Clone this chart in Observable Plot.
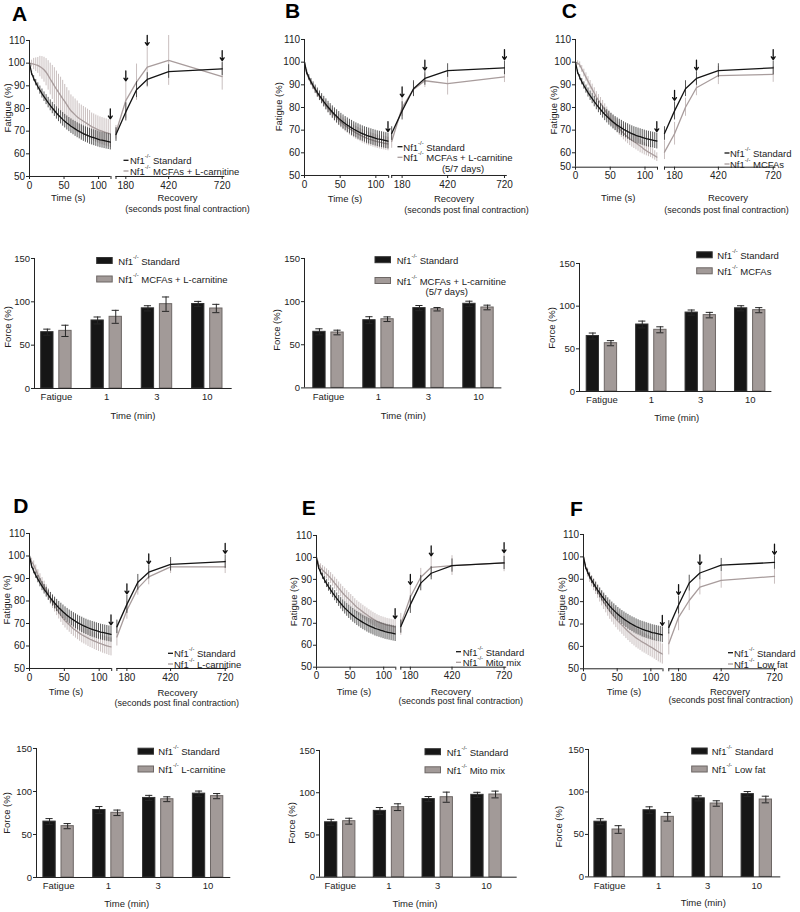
<!DOCTYPE html>
<html><head><meta charset="utf-8">
<script src="https://cdn.jsdelivr.net/npm/d3@7"></script>
<script src="https://cdn.jsdelivr.net/npm/@observablehq/plot@0.6"></script>
<style>
body{margin:0;background:#fff;}
#fig{position:relative;width:800px;height:912px;overflow:hidden;background:#fff;}
#fig svg{position:absolute;overflow:visible;}
</style></head><body><div id="fig"></div>
<script>
// ---------------- DATA ----------------
const fatigueTime = [0,3,6,9,12,15,18,21,24,27,30,33,36,39,42,45,48,51,54,57,60,63,66,69,72,75,78,81,84,87,90,93,96,99,102,105,108,111,114,117];
const recoveryTime = [125,180,240,300,420,720];
const barGroups = ["Fatigue","1","3","10"];

const standardFatigue = [100,95.5,93.3,91.4,89.7,88.1,86.6,85.2,83.9,82.6,81.4,80.2,79.1,78.0,77.0,76.1,75.2,74.4,73.6,72.9,72.2,71.6,71.0,70.4,69.9,69.4,68.9,68.5,68.1,67.7,67.4,67.1,66.8,66.5,66.2,66.0,65.8,65.6,65.4,65.2];
const standardFatigueErr = [0.5,1.0,1.2,1.4,1.6,1.8,2.0,2.1,2.2,2.3,2.4,2.5,2.6,2.7,2.8,2.9,3.0,3.0,3.1,3.1,3.2,3.2,3.3,3.3,3.3,3.4,3.4,3.4,3.4,3.5,3.5,3.5,3.5,3.5,3.5,3.5,3.5,3.5,3.5,3.5];
const standardRecovery = [68.5,78.5,88.3,92.8,96.3,97.5];
const standardRecoveryErr = [3,4,3.5,3,3,3];
const standardForce = [65,78.5,92.5,97.5];
const standardForceErr = [3.5,4,3,3];

// A: MCFAs + L-carnitine
const aFatigue = [100,99.8,99.6,99.3,99.0,98.5,97.9,97.1,96.0,94.6,93.0,91.5,90.0,88.5,87.1,85.8,84.4,83.1,81.7,80.3,79.0,78.1,77.2,76.3,75.6,75.0,74.4,73.8,73.2,72.6,72.0,71.6,71.1,70.7,70.3,70.0,69.7,69.4,69.1,68.8];
const aFatigueErr = [0.5,1.5,2.5,3.0,3.5,4.5,5.0,5.5,6.0,6.5,7.0,7.5,8.0,8.0,8.0,8.0,8.0,7.5,7.5,7.5,7.0,7.0,7.0,7.0,6.5,6.5,6.5,6.5,6.5,6.5,6.0,6.0,6.0,6.0,6.0,6.0,6.0,6.0,6.0,6.0];
const aRecovery = [69.5,83.5,91.6,98.2,101.2,94.1];
const aRecoveryErr = [3,8,8,9,11,6];
const aForce = [66.5,82.7,97.3,92.3];
const aForceErr = [6.5,7.5,8.3,4.8];

// B: MCFAs + L-carnitine (5/7 days)
const bFatigue = [100,95.0,92.8,90.9,89.2,87.6,86.1,84.7,83.4,82.1,80.9,79.7,78.5,77.4,76.4,75.4,74.5,73.6,72.8,72.0,71.3,70.6,70.0,69.4,68.8,68.3,67.8,67.3,66.9,66.5,66.1,65.8,65.5,65.2,64.9,64.7,64.5,64.3,64.1,63.9];
const bFatigueErr = [0.5,0.8,1.0,1.2,1.4,1.5,1.6,1.7,1.8,1.9,2.0,2.1,2.2,2.3,2.4,2.5,2.5,2.6,2.6,2.7,2.7,2.8,2.8,2.8,2.9,2.9,2.9,3.0,3.0,3.0,3.0,3.0,3.0,3.0,3.0,3.0,3.0,3.0,3.0,3.0];
const bRecovery = [65,80,88,91.8,90.5,93.5];
const bRecoveryErr = [3,4,3,3,5,2.5];
const bForce = [64.2,79.6,91.2,93.2];
const bForceErr = [2.7,2.7,2,2.7];

// C: MCFAs
const cFatigue = [100,99.6,98.8,97.0,95.2,93.4,91.6,89.8,88.1,86.4,84.6,83.2,81.9,80.5,79.0,77.5,76.0,74.7,73.6,72.6,71.6,70.6,69.6,68.7,67.8,67.0,66.2,65.5,64.9,64.3,63.7,63.0,62.3,61.5,60.9,60.3,59.7,58.8,57.9,57.0];
const cFatigueErr = [0.5,1.0,1.3,1.5,1.7,1.9,2.0,2.1,2.2,2.3,2.4,2.5,2.5,2.6,2.6,2.7,2.7,2.8,2.8,2.8,2.9,2.9,2.9,3.0,3.0,3.0,3.0,3.0,3.0,3.0,3.0,3.0,3.0,3.0,3.0,3.0,3.0,3.0,3.0,3.0];
const cRecovery = [60.3,68.4,80.1,88.7,94.1,94.6];
const cRecoveryErr = [5,5,4,3.5,4,3.5];
const cForce = [56.6,72.3,89.5,95.3];
const cForceErr = [3,3.5,3.2,3];

// D: L-carnitine
const dFatigue = [99.0,97.5,96.0,94.0,91.8,89.9,88.1,86.4,84.7,82.9,81.1,79.5,78.0,76.5,75.0,73.6,72.3,71.2,70.3,69.4,68.5,67.7,67.0,66.3,65.6,65.0,64.5,64.0,63.5,63.0,62.6,62.2,61.8,61.4,61.1,60.7,60.4,60.1,59.8,59.6];
const dFatigueErr = [1.0,1.5,1.8,2.0,2.1,2.2,2.3,2.4,2.5,2.6,2.7,2.8,2.9,3.0,3.0,3.1,3.2,3.2,3.3,3.3,3.4,3.4,3.5,3.5,3.5,3.6,3.6,3.6,3.7,3.7,3.7,3.8,3.8,3.8,3.8,3.9,3.9,3.9,4.0,4.0];
const dRecovery = [64,75.9,85.6,90.7,95.2,95.2];
const dRecoveryErr = [4,4,3,3.5,3,3];
const dForce = [59.7,75.2,91,94.6];
const dForceErr = [3,3.2,2.8,3];

// E: Mito mix
const eFatigue = [99.0,96.8,95.3,94.3,93.4,92.5,91.6,90.6,89.5,88.3,87.2,86.0,84.9,83.8,82.8,81.9,81.0,80.1,79.2,78.2,77.3,76.6,75.9,75.2,74.5,73.9,73.2,72.6,72.0,71.5,70.9,70.5,70.1,69.8,69.5,69.2,69.0,68.8,68.6,68.4];
const eFatigueErr = [0.8,1.5,1.8,2.0,2.2,2.3,2.4,2.5,2.6,2.7,2.8,2.8,2.9,2.9,3.0,3.0,3.0,3.0,3.0,3.0,3.0,3.0,3.0,3.0,3.0,3.0,3.0,3.0,3.0,3.0,3.0,3.0,3.0,3.0,3.0,3.0,3.0,3.0,3.0,3.0];
const eRecovery = [69.5,82,91,95.5,96.3,97.5];
const eRecoveryErr = [5,5,4,4.5,4.5,4];
const eForce = [66.3,82.9,94.7,97.9];
const eForceErr = [3.5,4,6,4];

// F: Low fat
const fFatigue = [100,95.6,93.0,90.9,89.1,87.6,86.1,84.5,82.9,81.3,79.8,78.4,77.0,75.7,74.5,73.4,72.3,71.3,70.4,69.5,68.6,67.7,66.8,66.0,65.2,64.5,63.8,63.2,62.6,62.0,61.5,61.0,60.4,59.9,59.4,58.8,58.2,57.6,57.1,56.6];
const fFatigueErr = [0.5,1.5,2.0,2.3,2.5,2.7,2.9,3.0,3.1,3.2,3.3,3.4,3.5,3.6,3.7,3.8,3.9,4.0,4.0,4.1,4.1,4.2,4.2,4.3,4.3,4.3,4.4,4.4,4.4,4.5,4.5,4.5,4.5,4.5,4.5,4.5,4.5,4.5,4.5,4.5];
const fRecovery = [61.2,73,80.5,86.5,89.5,91.3];
const fRecoveryErr = [5,6,4.5,3.5,3.5,3.5];
const fForce = [55.8,70.7,86.4,91.1];
const fForceErr = [4.5,5,3.2,3.9];

const panelLetters = ["A","B","C","D","E","F"];
const treatmentNames = ["MCFAs + L-carnitine","MCFAs + L-carnitine","MCFAs","L-carnitine","Mito mix","Low fat"];

// ---------------- STYLE / LAYOUT ----------------
const FONT = "'Liberation Sans', Arial, Helvetica, sans-serif";
const INK = "#222";
const BLACK_LINE = "#141414", BLACK_ERR = "#2e2e2e";
const GREY_LINE = "#a89c9c", GREY_ERR = "#c3b8b8";
const BAR_BLACK = "#161616", BAR_GREY = "#a29a98", BAR_GREY_STROKE = "#6d6765";

const fig = document.getElementById("fig");
function place(svg, left, top) {
  svg.style.left = left + "px"; svg.style.top = top + "px";
  fig.appendChild(svg);
}
const rows = (t, m, e) => t.map((x, i) => ({t: x, m: m[i], e: e[i]}));

const lineLayout = [
  {xr:[29,110.5,115.5,221.7], y110:40, y50:176},
  {xr:[304.3,388.5,391.5,504.3], y110:39, y50:175},
  {xr:[575,657,664,772.7], y110:39, y60:152.3, y50:166.7},
  {xr:[29.3,111.5,116.7,225], y110:533.3, y50:668.3},
  {xr:[315.7,395,400,503.3], y110:535, y50:666.7},
  {xr:[583,662.5,668.3,774], y110:534, y50:668.3}
];
const lineSeries = [
  [aFatigue,aFatigueErr,aRecovery,aRecoveryErr],
  [bFatigue,bFatigueErr,bRecovery,bRecoveryErr],
  [cFatigue,cFatigueErr,cRecovery,cRecoveryErr],
  [dFatigue,dFatigueErr,dRecovery,dRecoveryErr],
  [eFatigue,eFatigueErr,eRecovery,eRecoveryErr],
  [fFatigue,fFatigueErr,fRecovery,fRecoveryErr]
];

function linePanel(k) {
  const p = lineLayout[k];
  const [tf, tfe, tr, tre] = lineSeries[k];
  const left = p.xr[0] - 32, top = p.y110 - 12;
  const recPx = (p.xr[3] - p.xr[2]) / (720 - 125);
  const xEnd = p.xr[3] + 15 * recPx;
  const right = xEnd + 8, bottom = p.y50 + 18;
  const ppu = p.y60 ? (p.y60 - p.y110) / 50 : (p.y50 - p.y110) / 60;
  const yDomain = p.y60 ? [50, 60, 110] : [50, 110];
  const yRange = (p.y60 ? [p.y50, p.y60, p.y110] : [p.y50, p.y110]).map(v => v - top);
  const sF = rows(fatigueTime, standardFatigue, standardFatigueErr);
  const gF = rows(fatigueTime, tf, tfe);
  const sR = rows(recoveryTime, standardRecovery, standardRecoveryErr);
  const gR = rows(recoveryTime, tr, tre);
  const arrowTimes = [fatigueTime[fatigueTime.length - 1], 180, 300, 720];
  const arrows = arrowTimes.map(t => {
    const pts = [...sF, ...gF, ...sR, ...gR].filter(d => d.t === t);
    const topV = d3.max(pts, d => d.m + d.e);
    const tip = topV + 1.5 / ppu;
    return {t, tip, tail: tip + 10 / ppu};
  });
  const svg = Plot.plot({
    width: right - left, height: bottom - top,
    marginLeft: p.xr[0] - left, marginRight: right - xEnd,
    marginTop: p.y110 - top, marginBottom: bottom - p.y50,
    style: {fontFamily: FONT, fontSize: "10px", color: INK, background: "transparent", overflow: "visible"},
    x: {type: "linear", domain: [0, 118, 125, 720], range: p.xr.map(v => v - left), label: null},
    y: {type: "linear", domain: yDomain, range: yRange, label: null},
    marks: [
      Plot.ruleX(gF, {x: "t", y1: d => d.m - d.e, y2: d => d.m + d.e, stroke: GREY_ERR, strokeWidth: 0.9}),
      Plot.ruleX(gR, {x: "t", y1: d => d.m - d.e, y2: d => d.m + d.e, stroke: GREY_ERR, strokeWidth: 0.9}),
      Plot.line(gF, {x: "t", y: "m", stroke: GREY_LINE, strokeWidth: 1.3}),
      Plot.line(gR, {x: "t", y: "m", stroke: GREY_LINE, strokeWidth: 1.3}),
      Plot.ruleX(sF, {x: "t", y1: d => d.m - d.e, y2: d => d.m + d.e, stroke: BLACK_ERR, strokeWidth: 0.8}),
      Plot.ruleX(sR, {x: "t", y1: d => d.m - d.e, y2: d => d.m + d.e, stroke: BLACK_ERR, strokeWidth: 0.8}),
      Plot.line(sF, {x: "t", y: "m", stroke: BLACK_LINE, strokeWidth: 1.3}),
      Plot.line(sR, {x: "t", y: "m", stroke: BLACK_LINE, strokeWidth: 1.3}),
      Plot.ruleX([0], {y1: 50, y2: 110, stroke: INK, strokeWidth: 1}),
      Plot.ruleY([50], {x1: 0, x2: 118, stroke: INK, strokeWidth: 1}),
      Plot.ruleY([50], {x1: 125, x2: 735, stroke: INK, strokeWidth: 1}),
      Plot.axisY({ticks: [50,60,70,80,90,100,110], tickSize: 3, tickPadding: 1.5, label: null}),
      Plot.axisX({ticks: [0,50,100,180,420,720], tickSize: 3, tickPadding: 2, label: null}),
      Plot.axisX({ticks: [118,125], tickSize: 3, tickFormat: () => "", label: null}),
      Plot.arrow(arrows, {x1: "t", x2: "t", y1: "tail", y2: "tip", stroke: "#111", strokeWidth: 1.3, headLength: 4.5, headAngle: 70})
    ]
  });
  place(svg, left, top);
}

const barLayout = [
  {axisX:34.3, axisEnd:232, y0:387.7, y150:257.7, c0:56.2, c3:207.1},
  {axisX:304.3, axisEnd:501.7, y0:387.7, y150:258.3, c0:328.3, c3:478.3},
  {axisX:579.3, axisEnd:771.7, y0:390.7, y150:262.7, c0:601.7, c3:750},
  {axisX:35.7, axisEnd:230, y0:877.3, y150:748.3, c0:57.8, c3:207.3},
  {axisX:319, axisEnd:516.7, y0:876.7, y150:750, c0:339.7, c3:486},
  {axisX:587.7, axisEnd:780, y0:876.7, y150:749.3, c0:608.8, c3:756}
];
const barSeries = [
  [aForce,aForceErr],[bForce,bForceErr],[cForce,cForceErr],
  [dForce,dForceErr],[eForce,eForceErr],[fForce,fForceErr]
];

function barPanel(k) {
  const p = barLayout[k];
  const [tv, te] = barSeries[k];
  const left = p.axisX - 32, top = p.y150 - 10, right = p.axisEnd + 6, bottom = p.y0 + 18;
  const s = (p.c3 - p.c0) / 3;
  const off = 9.05 / s, hw = 6.15 / s, cap = 3.6 / s;
  const lo = (p.axisX - p.c0) / s;
  const sRows = barGroups.map((g, i) => ({i, v: standardForce[i], e: standardForceErr[i]}));
  const tRows = barGroups.map((g, i) => ({i, v: tv[i], e: te[i]}));
  const errMarks = (data, sign) => [
    Plot.ruleX(data, {x: d => d.i + sign * off, y1: d => d.v - d.e, y2: d => d.v + d.e, stroke: "#262626", strokeWidth: 1}),
    Plot.ruleY(data, {y: d => d.v + d.e, x1: d => d.i + sign * off - cap, x2: d => d.i + sign * off + cap, stroke: "#262626", strokeWidth: 1}),
    Plot.ruleY(data, {y: d => d.v - d.e, x1: d => d.i + sign * off - cap, x2: d => d.i + sign * off + cap, stroke: "#262626", strokeWidth: 1})
  ];
  const svg = Plot.plot({
    width: right - left, height: bottom - top,
    marginLeft: p.axisX - left, marginRight: right - p.axisEnd,
    marginTop: p.y150 - top, marginBottom: bottom - p.y0,
    style: {fontFamily: FONT, fontSize: "9.5px", color: INK, background: "transparent", overflow: "visible"},
    x: {type: "linear", domain: [0, 3], range: [p.c0 - left, p.c3 - left], label: null},
    y: {type: "linear", domain: [0, 150], range: [p.y0 - top, p.y150 - top], label: null},
    marks: [
      Plot.rectY(sRows, {x1: d => d.i - off - hw, x2: d => d.i - off + hw, y1: 0, y2: "v", fill: BAR_BLACK, stroke: "#333", strokeWidth: 1}),
      Plot.rectY(tRows, {x1: d => d.i + off - hw, x2: d => d.i + off + hw, y1: 0, y2: "v", fill: BAR_GREY, stroke: BAR_GREY_STROKE, strokeWidth: 1}),
      ...errMarks(sRows, -1),
      ...errMarks(tRows, 1),
      Plot.ruleY([0], {stroke: INK, strokeWidth: 1}),
      Plot.ruleX([lo], {y1: 0, y2: 150, stroke: INK, strokeWidth: 1}),
      Plot.axisY({ticks: [0, 50, 100, 150], tickSize: 3, tickPadding: 1.5, label: null}),
      Plot.axisX({ticks: [0, 1, 2, 3], tickFormat: i => barGroups[i], tickSize: 0, tickPadding: 5, label: null})
    ]
  });
  place(svg, left, top);
}

for (let k = 0; k < 6; k++) { linePanel(k); barPanel(k); }

// ---------------- TEXT OVERLAY ----------------
const ov = d3.select("#fig").append("svg")
  .attr("width", 800).attr("height", 912)
  .style("left", "0px").style("top", "0px")
  .style("font-family", FONT).style("pointer-events", "none");

function txt(x, y, s, o = {}) {
  const size = o.size || 9.5;
  ov.append("text").attr("x", x).attr("y", y)
    .attr("text-anchor", o.anchor || "middle")
    .attr("dominant-baseline", o.base || "central")
    .attr("font-size", size).attr("fill", o.fill || INK)
    .attr("font-weight", o.weight || null)
    .attr("transform", o.rotate ? `rotate(-90 ${x} ${y})` : null)
    .text(s);
}
function nf1(x, y, rest, size = 9.5) {
  const t = ov.append("text").attr("x", x).attr("y", y)
    .attr("dominant-baseline", "central").attr("font-size", size).attr("fill", INK);
  t.append("tspan").text("Nf1");
  t.append("tspan").attr("font-size", size * 0.62).attr("dy", -size * 0.42).text("-/-");
  t.append("tspan").attr("dy", size * 0.42).text(" " + rest);
}

const letterPos = [[12,20.5],[285,18.3],[561.7,18.3],[13.3,513],[301.7,515],[570,516]];
const lineText = [
  {yl:[7,108], time:[68.3,197], rec:[177.5,197], par:[187.5,209], leg:{sx:123.5, tx:130, y1:160.3, y2:171}},
  {yl:[278.3,106.7], time:[345,198.3], rec:[454,198.3], par:[466.5,210], leg:{sx:397.5, tx:403.3, y1:146.7, y2:157.3, extra:[463,168.3]}},
  {yl:[553.3,110], time:[618.3,197.3], rec:[728,197.3], par:[726.5,210], leg:{sx:724.5, tx:730, y1:153, y2:164}},
  {yl:[6.7,600], time:[66,691.5], rec:[177.5,692.7], par:[176.7,703.3], leg:{sx:168, tx:174, y1:653.3, y2:664}},
  {yl:[294,601.7], time:[354,691], rec:[451,691], par:[460.8,701], leg:{sx:456, tx:462.7, y1:651.7, y2:662.3}},
  {yl:[561.7,601.7], time:[624,691], rec:[730,691], par:[730.8,700], leg:{sx:728, tx:734, y1:652.7, y2:664}}
];
const barText = [
  {yl:[7,327], time:[133,415], leg:{rx:96.7, tx:118.3, y1:260.5, y2:279}},
  {yl:[276.7,330], time:[403.3,415], leg:{rx:375, tx:396.7, y1:259.7, y2:280.5, extra:[446.7,291]}},
  {yl:[551.7,328], time:[676.7,417.3], leg:{rx:696.7, tx:717.3, y1:254.8, y2:270.8}},
  {yl:[6.7,813], time:[126.7,903.3], leg:{rx:138, tx:158.3, y1:751.2, y2:769}},
  {yl:[291.7,823], time:[415,903.3], leg:{rx:425, tx:446.7, y1:751.7, y2:769.8}},
  {yl:[558.3,826.7], time:[703.3,902.7], leg:{rx:691.7, tx:711.7, y1:751, y2:769}}
];

for (let k = 0; k < 6; k++) {
  const [lx, ly] = letterPos[k];
  txt(lx, ly, panelLetters[k], {anchor: "start", base: "alphabetic", size: 21, weight: "bold", fill: "#000"});
  const L = lineText[k];
  txt(L.yl[0], L.yl[1], "Fatigue (%)", {rotate: true, size: 9.5});
  txt(L.time[0], L.time[1], "Time (s)");
  txt(L.rec[0], L.rec[1], "Recovery");
  txt(L.par[0], L.par[1], "(seconds post final contraction)", {size: 9});
  ov.append("line").attr("x1", L.leg.sx).attr("x2", L.leg.sx + 5).attr("y1", L.leg.y1).attr("y2", L.leg.y1)
    .attr("stroke", BLACK_LINE).attr("stroke-width", 1.3);
  ov.append("line").attr("x1", L.leg.sx).attr("x2", L.leg.sx + 5).attr("y1", L.leg.y2).attr("y2", L.leg.y2)
    .attr("stroke", GREY_LINE).attr("stroke-width", 1.3);
  nf1(L.leg.tx, L.leg.y1, "Standard");
  nf1(L.leg.tx, L.leg.y2, treatmentNames[k]);
  if (L.leg.extra) txt(L.leg.extra[0], L.leg.extra[1], "(5/7 days)");

  const B = barText[k];
  txt(B.yl[0], B.yl[1], "Force (%)", {rotate: true});
  txt(B.time[0], B.time[1], "Time (min)");
  ov.append("rect").attr("x", B.leg.rx).attr("y", B.leg.y1 - 3).attr("width", 15.5).attr("height", 6)
    .attr("fill", BAR_BLACK).attr("stroke", "#333");
  ov.append("rect").attr("x", B.leg.rx).attr("y", B.leg.y2 - 3).attr("width", 15.5).attr("height", 6)
    .attr("fill", BAR_GREY).attr("stroke", BAR_GREY_STROKE);
  nf1(B.leg.tx, B.leg.y1, "Standard");
  nf1(B.leg.tx, B.leg.y2, treatmentNames[k]);
  if (B.leg.extra) txt(B.leg.extra[0], B.leg.extra[1], "(5/7 days)");
}
</script></body></html>
